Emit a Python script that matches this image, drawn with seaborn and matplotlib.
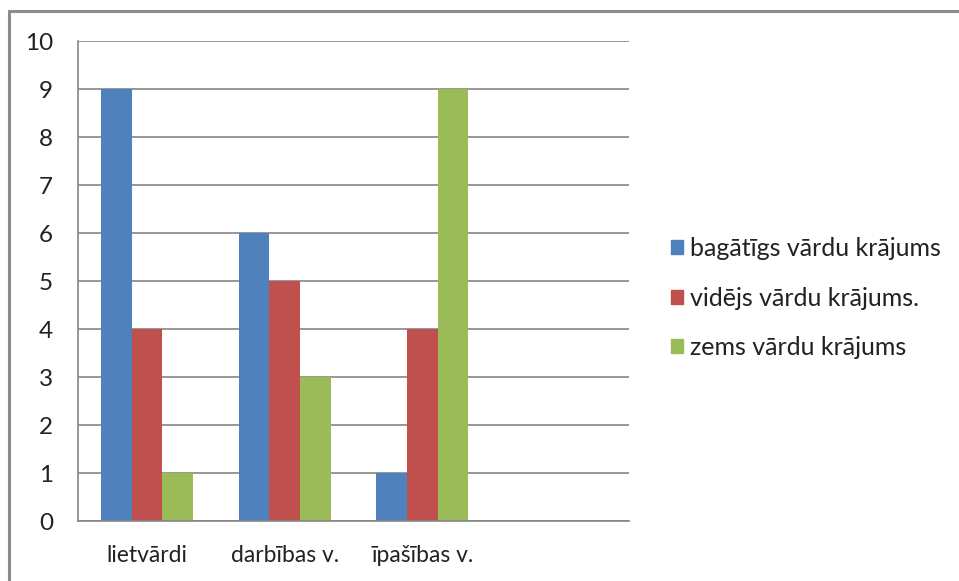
import matplotlib
matplotlib.use("Agg")
import matplotlib.pyplot as plt
import matplotlib.patches as mpatches
import seaborn as sns
import pandas as pd
import numpy as np

categories = ["lietvārdi", "darbības v.", "īpašības v."]
series = ["bagātīgs vārdu krājums", "vidējs vārdu krājums.", "zems vārdu krājums"]
bagatigs = [9, 6, 1]
videjs = [4, 5, 4]
zems = [1, 3, 9]
colors = ["#4F81BD", "#C0504D", "#9BBB59"]
yticks = list(range(0, 11))

rows = []
for s, vals in zip(series, [bagatigs, videjs, zems]):
    for c, v in zip(categories, vals):
        rows.append({"cat": c, "series": s, "value": v})
df = pd.DataFrame(rows)

sns.set_style("white")
plt.rcParams['font.family'] = ['Lato', 'DejaVu Sans']

fig = plt.figure(figsize=(9.59, 5.81), dpi=100)
ax = fig.add_axes([78/959, 1-521/581, (629-78)/959, (521-41)/581])

sns.barplot(data=df, x="cat", y="value", hue="series", order=categories,
            hue_order=series, palette=colors, width=0.667, gap=0,
            saturation=1, ax=ax, legend=False, linewidth=0)

ax.set_xlim(-0.5, 3.5)
ax.set_ylim(0, 10)
ax.set_yticks(yticks)
ax.set_yticklabels([str(t) for t in yticks], fontsize=17.5, color="#222222")
ax.set_xticks(range(len(categories)))
ax.set_xticklabels(categories, fontsize=16.5, color="#222222")
ax.set_xticks(np.arange(-0.5, 3.6, 1), minor=True)
ax.tick_params(axis="x", which="major", length=0, pad=17)
ax.tick_params(axis="x", which="minor", length=10, color="#868686", width=1.2)
ax.tick_params(axis="y", which="major", length=8, color="#868686", width=1.2, pad=10)
ax.set_xlabel("")
ax.set_ylabel("")
ax.grid(axis="y", color="#868686", linewidth=1.2)
ax.set_axisbelow(True)
for s in ["top", "right"]:
    ax.spines[s].set_visible(False)
for s in ["left", "bottom"]:
    ax.spines[s].set_color("#868686")
    ax.spines[s].set_linewidth(1.2)

handles = [mpatches.Patch(color=c, label=l) for c, l in zip(colors, series)]
fig.legend(handles=handles, loc="center left", bbox_to_anchor=(671/959, 1-298/581),
           frameon=False, fontsize=18, handlelength=0.48, handleheight=0.48,
           handletextpad=0.3, labelspacing=1.05, borderpad=0, borderaxespad=0,
           labelcolor="#222222")

fig.patches.append(mpatches.Rectangle((9/959, -0.1), 1.2, 1 - 11/581 + 0.1,
                                      transform=fig.transFigure, fill=False,
                                      edgecolor="#8c8c8c", linewidth=2.2))

fig.savefig("out.png", dpi=100)
